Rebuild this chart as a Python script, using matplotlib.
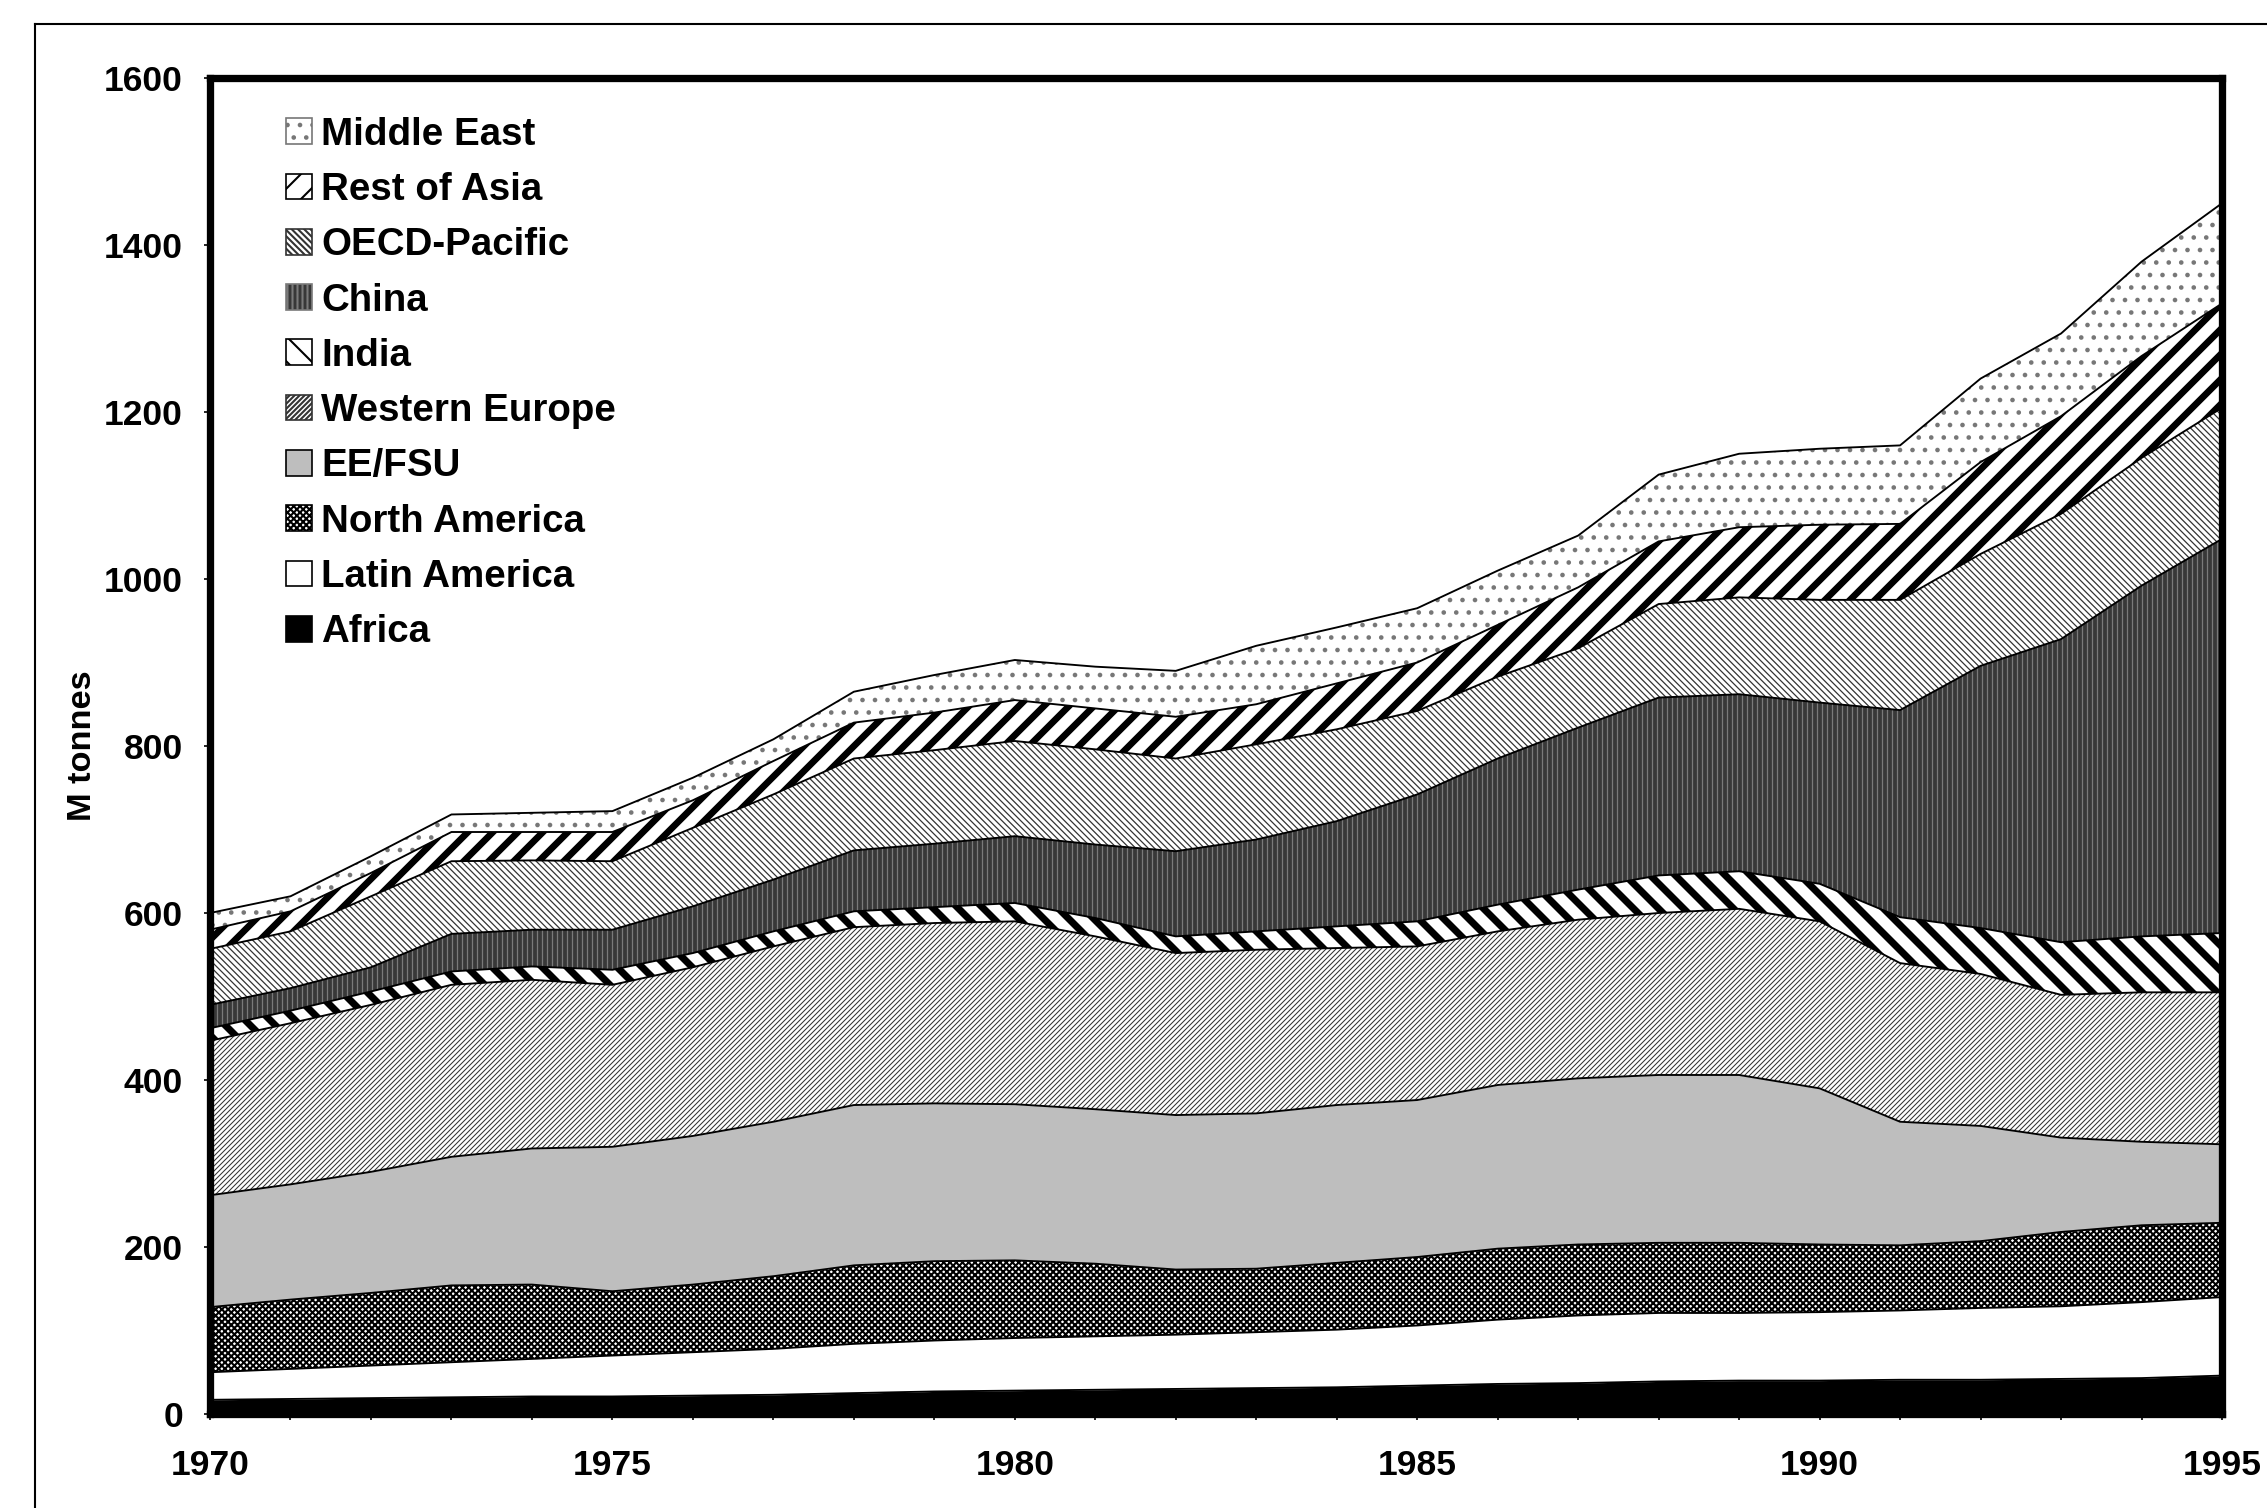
import matplotlib
matplotlib.use("Agg")
import matplotlib.pyplot as plt
from matplotlib.patches import Patch
from matplotlib.lines import Line2D
from matplotlib.ticker import MultipleLocator
import numpy as np

plt.rcParams["font.family"] = ["Liberation Sans", "DejaVu Sans"]
plt.rcParams["font.weight"] = "bold"

years = list(range(1970, 1996))

# Mt per region, bottom layer first
africa = [17, 18, 19, 20, 21, 21, 22, 23, 25, 27, 28, 29, 30, 31, 32, 34, 36, 37, 39, 40, 40, 41, 41, 42, 43, 46]
latin_america = [33, 36, 39, 42, 45, 49, 52, 55, 59, 61, 63, 64, 65, 67, 69, 72, 77, 81, 82, 81, 82, 83, 86, 87, 91, 94]
north_america = [78, 83, 87, 92, 89, 77, 81, 87, 94, 95, 93, 87, 78, 76, 80, 82, 85, 85, 84, 84, 81, 78, 80, 89, 92, 89]
ee_fsu = [134, 138, 145, 154, 163, 173, 178, 185, 192, 189, 187, 185, 185, 186, 189, 188, 196, 199, 201, 201, 187, 148, 138, 113, 100, 94]
western_europe = [185, 193, 200, 206, 202, 194, 202, 210, 213, 216, 219, 207, 194, 196, 188, 184, 184, 190, 194, 199, 200, 190, 182, 171, 179, 182]
india = [15, 15, 16, 16, 16, 18, 17, 18, 19, 19, 22, 22, 20, 22, 26, 30, 32, 36, 45, 45, 45, 55, 55, 63, 67, 71]
china = [28, 27, 29, 45, 44, 48, 56, 62, 73, 76, 80, 88, 102, 110, 126, 152, 175, 194, 213, 212, 217, 248, 314, 363, 420, 472]
oecd_pacific = [67, 68, 85, 87, 83, 82, 94, 102, 110, 112, 114, 114, 111, 114, 110, 100, 98, 95, 112, 116, 123, 132, 134, 150, 153, 157]
rest_of_asia = [23, 24, 28, 35, 34, 35, 33, 40, 43, 45, 49, 49, 50, 48, 55, 58, 62, 73, 75, 84, 90, 91, 110, 117, 122, 125]
middle_east = [20, 18, 20, 21, 23, 25, 27, 26, 37, 45, 48, 50, 55, 70, 67, 65, 65, 62, 80, 88, 91, 94, 100, 99, 113, 120]

labels = ["Africa", "Latin America", "North America", "EE/FSU", "Western Europe",
          "India", "China", "OECD-Pacific", "Rest of Asia", "Middle East"]
series = [africa, latin_america, north_america, ee_fsu, western_europe,
          india, china, oecd_pacific, rest_of_asia, middle_east]

# (facecolor, hatch, hatch colour, hatch linewidth)
styles = [
    ("black", None, "black", 1.0),
    ("white", None, "black", 1.0),
    ("white", "x" * 8, "black", 1.0),
    ("#bebebe", None, "black", 1.0),
    ("white", "/" * 10, "#333333", 0.5),
    ("white", "\\" * 2, "black", 3.4),
    ("#383838", "|||||", "#7a7a7a", 0.6),
    ("white", "\\" * 8, "#333333", 0.6),
    ("white", "/" * 2, "black", 3.2),
    ("white", "..", "#777777", 1.0),
]

fig = plt.figure(figsize=(2267 / 150, 1508 / 150), dpi=150)
ax = fig.add_axes([210 / 2267, 1 - 1414 / 1508, 2012 / 2267, 1336 / 1508])

x = np.array(years)
base = np.zeros(len(years))
tops = []
for vals, (fc, hatch, hc, hlw) in zip(series, styles):
    top = base + np.array(vals)
    with plt.rc_context({"hatch.linewidth": hlw}):
        poly = ax.fill_between(x, base, top, facecolor=fc, hatch=hatch,
                               edgecolor=hc, linewidth=0)
        if hasattr(poly, "set_hatch_linewidth"):
            poly.set_hatch_linewidth(hlw)
    tops.append(top)
    base = top

# outline of every layer
for top in tops:
    ax.plot(x, top, color="black", linewidth=0.9)

ax.set_xlim(1970, 1995)
ax.set_ylim(0, 1600)
ax.xaxis.set_major_locator(MultipleLocator(5))
ax.xaxis.set_minor_locator(MultipleLocator(1))
ax.yaxis.set_major_locator(MultipleLocator(200))
ax.tick_params(axis="both", which="both", direction="out", length=3, width=0.8,
               labelsize=17)
ax.tick_params(axis="x", pad=14)
ax.tick_params(axis="y", pad=10)
for side in ax.spines.values():
    side.set_linewidth(3.5)
ax.set_ylabel("M tonnes", fontsize=16.5, fontweight="bold", labelpad=3)

handles = []
for lab, (fc, hatch, hc, hlw) in zip(labels, styles):
    handles.append(Patch(facecolor=fc, hatch=hatch, edgecolor=hc if hatch else "black",
                         linewidth=0.8, label=lab))
ax.legend(handles[::-1], labels[::-1], loc="upper left", bbox_to_anchor=(0.038, 0.971),
          frameon=False, prop={"weight": "bold", "size": 18.5},
          handlelength=0.65, handleheight=0.65, handletextpad=0.25,
          labelspacing=0.5, borderpad=0, borderaxespad=0)

# thin frame around the whole figure (top and left edges are visible)
fig.add_artist(Line2D([35 / 2267, 1.0], [1 - 24 / 1508] * 2, transform=fig.transFigure,
                      color="black", linewidth=1.0))
fig.add_artist(Line2D([35 / 2267] * 2, [0.0, 1 - 24 / 1508], transform=fig.transFigure,
                      color="black", linewidth=1.0))

fig.savefig("out.png", dpi=150)
